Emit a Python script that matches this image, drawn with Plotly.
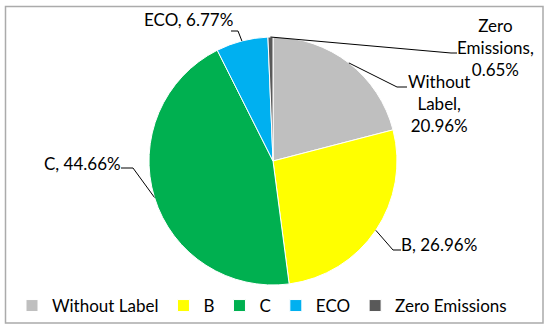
import math
import plotly.graph_objects as go

# ---- data ----
categories = ["Without Label", "B", "C", "ECO", "Zero Emissions"]
shares = [20.96, 26.96, 44.66, 6.77, 0.65]
label_lines = {  # how each data label wraps (text built from data)
    "Without Label": ["Without", "Label,"],
    "Zero Emissions": ["Zero", "Emissions,"],
}
colors = ["#BFBFBF", "#FFFF00", "#00B050", "#00B0F0", "#595959"]

# ---- layout constants (pixels) ----
W, H = 550, 333
CX, CY, R = 273, 161, 124
FONT = "Lato"
FS = 17
# label placement: text centre, elbow point, line end near text
label_pos = {
    "Without Label": dict(t=(439, 103), elbow=(397, 87), end=(407, 87)),
    "B": dict(t=(439, 244), elbow=(393, 250), end=(401, 250)),
    "C": dict(t=(82, 163), elbow=(133, 168), end=(121, 168)),
    "ECO": dict(t=(188, 19), elbow=(238, 31), end=(231, 31)),
    "Zero Emissions": dict(t=(495, 48), elbow=(451, 53), end=(457, 53)),
}


def px(x, y):
    return x / W, 1 - y / H


fig = go.Figure(
    go.Pie(
        labels=categories,
        values=shares,
        sort=False,
        direction="clockwise",
        rotation=0,
        textinfo="none",
        hoverinfo="label+percent",
        marker=dict(colors=colors, line=dict(color="white", width=1)),
        domain=dict(x=[(CX - R) / W, (CX + R) / W], y=[1 - (CY + R) / H, 1 - (CY - R) / H]),
    )
)

total = sum(shares)
cum = 0.0
shapes = []
annotations = []
for cat, v in zip(categories, shares):
    mid = (cum + v / 2) / total * 360.0
    cum += v
    ex = CX + R * math.sin(math.radians(mid))
    ey = CY - R * math.cos(math.radians(mid))
    lp = label_pos[cat]
    pts = [px(ex, ey), px(*lp["elbow"]), px(*lp["end"])]
    path = "M {} {} L {} {} L {} {}".format(*[c for p in pts for c in p])
    shapes.append(dict(type="path", xref="paper", yref="paper", path=path,
                       line=dict(color="black", width=1)))
    pct = f"{v:.2f}%"
    if cat in label_lines:
        txt = "<br>".join(label_lines[cat] + [pct])
    else:
        txt = f"{cat}, {pct}"
    tx, ty = px(*lp["t"])
    annotations.append(dict(x=tx, y=ty, xref="paper", yref="paper", text=txt,
                            showarrow=False, xanchor="center", yanchor="middle",
                            font=dict(family=FONT, size=FS, color="black")))

# chart border
shapes.append(dict(type="rect", xref="paper", yref="paper",
                   x0=5.5 / W, x1=543 / W, y0=1 - 323 / H, y1=1 - 6.5 / H,
                   line=dict(color="#ABABAB", width=1.5)))

fig.update_layout(
    width=W, height=H,
    margin=dict(l=0, r=0, t=0, b=0),
    paper_bgcolor="white",
    plot_bgcolor="white",
    font=dict(family=FONT, size=FS, color="black"),
    shapes=shapes,
    annotations=annotations,
    showlegend=True,
    legend=dict(orientation="h", x=262 / W, xanchor="center", y=1 - 306 / H, yanchor="middle",
                font=dict(family=FONT, size=FS, color="black"), bgcolor="rgba(0,0,0,0)"),
)

fig.write_html("out.html", config={"displayModeBar": False},
               post_script="document.body.style.margin='0';document.body.style.overflow='hidden';")
